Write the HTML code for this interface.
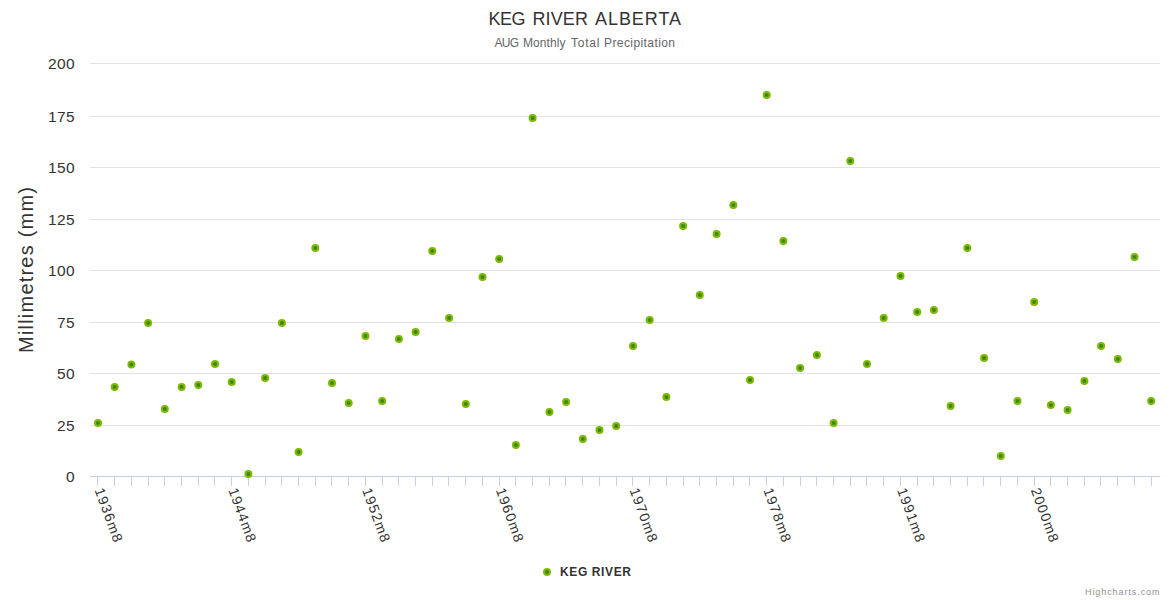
<!DOCTYPE html>
<html><head><meta charset="utf-8"><style>
html,body{margin:0;padding:0;background:#fff;width:1170px;height:600px;overflow:hidden}
svg{display:block}
text{font-family:"Liberation Sans",sans-serif}
</style></head><body>
<svg width="1170" height="600" viewBox="0 0 1170 600">
<rect x="0" y="0" width="1170" height="600" fill="#ffffff"/>

<text x="488.50" y="24.5" font-size="18" font-weight="normal" fill="#333333" textLength="37.00">KEG</text>
<text x="532.50" y="24.5" font-size="18" font-weight="normal" fill="#333333" textLength="55.50">RIVER</text>
<text x="595.00" y="24.5" font-size="18" font-weight="normal" fill="#333333" textLength="86.00">ALBERTA</text>
<text x="494.50" y="46.7" font-size="12" font-weight="normal" fill="#666666" textLength="24.50">AUG</text>
<text x="523.00" y="46.7" font-size="12" font-weight="normal" fill="#666666" textLength="42.50">Monthly</text>
<text x="571.00" y="46.7" font-size="12" font-weight="normal" fill="#666666" textLength="28.50">Total</text>
<text x="604.00" y="46.7" font-size="12" font-weight="normal" fill="#666666" textLength="71.00">Precipitation</text>
<rect x="90" y="63" width="1070" height="1" fill="#e3e3e3"/>
<rect x="90" y="116" width="1070" height="1" fill="#e3e3e3"/>
<rect x="90" y="167" width="1070" height="1" fill="#e3e3e3"/>
<rect x="90" y="219" width="1070" height="1" fill="#e3e3e3"/>
<rect x="90" y="270" width="1070" height="1" fill="#e3e3e3"/>
<rect x="90" y="322" width="1070" height="1" fill="#e3e3e3"/>
<rect x="90" y="373" width="1070" height="1" fill="#e3e3e3"/>
<rect x="90" y="425" width="1070" height="1" fill="#e3e3e3"/>
<rect x="90" y="476" width="1070" height="1" fill="#c4d0e6"/>
<rect x="97" y="477" width="1" height="9" fill="#c4d0e6"/>
<rect x="114" y="477" width="1" height="9" fill="#c4d0e6"/>
<rect x="131" y="477" width="1" height="9" fill="#c4d0e6"/>
<rect x="148" y="477" width="1" height="9" fill="#c4d0e6"/>
<rect x="164" y="477" width="1" height="9" fill="#c4d0e6"/>
<rect x="181" y="477" width="1" height="9" fill="#c4d0e6"/>
<rect x="198" y="477" width="1" height="9" fill="#c4d0e6"/>
<rect x="214" y="477" width="1" height="9" fill="#c4d0e6"/>
<rect x="231" y="477" width="1" height="9" fill="#c4d0e6"/>
<rect x="248" y="477" width="1" height="9" fill="#c4d0e6"/>
<rect x="265" y="477" width="1" height="9" fill="#c4d0e6"/>
<rect x="281" y="477" width="1" height="9" fill="#c4d0e6"/>
<rect x="298" y="477" width="1" height="9" fill="#c4d0e6"/>
<rect x="315" y="477" width="1" height="9" fill="#c4d0e6"/>
<rect x="331" y="477" width="1" height="9" fill="#c4d0e6"/>
<rect x="348" y="477" width="1" height="9" fill="#c4d0e6"/>
<rect x="365" y="477" width="1" height="9" fill="#c4d0e6"/>
<rect x="382" y="477" width="1" height="9" fill="#c4d0e6"/>
<rect x="398" y="477" width="1" height="9" fill="#c4d0e6"/>
<rect x="415" y="477" width="1" height="9" fill="#c4d0e6"/>
<rect x="432" y="477" width="1" height="9" fill="#c4d0e6"/>
<rect x="448" y="477" width="1" height="9" fill="#c4d0e6"/>
<rect x="465" y="477" width="1" height="9" fill="#c4d0e6"/>
<rect x="482" y="477" width="1" height="9" fill="#c4d0e6"/>
<rect x="499" y="477" width="1" height="9" fill="#c4d0e6"/>
<rect x="515" y="477" width="1" height="9" fill="#c4d0e6"/>
<rect x="532" y="477" width="1" height="9" fill="#c4d0e6"/>
<rect x="549" y="477" width="1" height="9" fill="#c4d0e6"/>
<rect x="565" y="477" width="1" height="9" fill="#c4d0e6"/>
<rect x="582" y="477" width="1" height="9" fill="#c4d0e6"/>
<rect x="599" y="477" width="1" height="9" fill="#c4d0e6"/>
<rect x="616" y="477" width="1" height="9" fill="#c4d0e6"/>
<rect x="632" y="477" width="1" height="9" fill="#c4d0e6"/>
<rect x="649" y="477" width="1" height="9" fill="#c4d0e6"/>
<rect x="666" y="477" width="1" height="9" fill="#c4d0e6"/>
<rect x="683" y="477" width="1" height="9" fill="#c4d0e6"/>
<rect x="699" y="477" width="1" height="9" fill="#c4d0e6"/>
<rect x="716" y="477" width="1" height="9" fill="#c4d0e6"/>
<rect x="733" y="477" width="1" height="9" fill="#c4d0e6"/>
<rect x="749" y="477" width="1" height="9" fill="#c4d0e6"/>
<rect x="766" y="477" width="1" height="9" fill="#c4d0e6"/>
<rect x="783" y="477" width="1" height="9" fill="#c4d0e6"/>
<rect x="800" y="477" width="1" height="9" fill="#c4d0e6"/>
<rect x="816" y="477" width="1" height="9" fill="#c4d0e6"/>
<rect x="833" y="477" width="1" height="9" fill="#c4d0e6"/>
<rect x="850" y="477" width="1" height="9" fill="#c4d0e6"/>
<rect x="866" y="477" width="1" height="9" fill="#c4d0e6"/>
<rect x="883" y="477" width="1" height="9" fill="#c4d0e6"/>
<rect x="900" y="477" width="1" height="9" fill="#c4d0e6"/>
<rect x="917" y="477" width="1" height="9" fill="#c4d0e6"/>
<rect x="933" y="477" width="1" height="9" fill="#c4d0e6"/>
<rect x="950" y="477" width="1" height="9" fill="#c4d0e6"/>
<rect x="967" y="477" width="1" height="9" fill="#c4d0e6"/>
<rect x="983" y="477" width="1" height="9" fill="#c4d0e6"/>
<rect x="1000" y="477" width="1" height="9" fill="#c4d0e6"/>
<rect x="1017" y="477" width="1" height="9" fill="#c4d0e6"/>
<rect x="1034" y="477" width="1" height="9" fill="#c4d0e6"/>
<rect x="1050" y="477" width="1" height="9" fill="#c4d0e6"/>
<rect x="1067" y="477" width="1" height="9" fill="#c4d0e6"/>
<rect x="1084" y="477" width="1" height="9" fill="#c4d0e6"/>
<rect x="1100" y="477" width="1" height="9" fill="#c4d0e6"/>
<rect x="1117" y="477" width="1" height="9" fill="#c4d0e6"/>
<rect x="1134" y="477" width="1" height="9" fill="#c4d0e6"/>
<rect x="1151" y="477" width="1" height="9" fill="#c4d0e6"/>
<text x="74.5" y="69.1" text-anchor="end" font-size="15.5" fill="#333333" textLength="26.5">200</text>
<text x="74.5" y="122.1" text-anchor="end" font-size="15.5" fill="#333333" textLength="26.5">175</text>
<text x="74.5" y="173.1" text-anchor="end" font-size="15.5" fill="#333333" textLength="26.5">150</text>
<text x="74.5" y="225.1" text-anchor="end" font-size="15.5" fill="#333333" textLength="26.5">125</text>
<text x="74.5" y="276.1" text-anchor="end" font-size="15.5" fill="#333333" textLength="26.5">100</text>
<text x="74.5" y="328.1" text-anchor="end" font-size="15.5" fill="#333333" textLength="17.5">75</text>
<text x="74.5" y="379.1" text-anchor="end" font-size="15.5" fill="#333333" textLength="17.5">50</text>
<text x="74.5" y="431.1" text-anchor="end" font-size="15.5" fill="#333333" textLength="17.5">25</text>
<text x="74.5" y="482.1" text-anchor="end" font-size="15.5" fill="#333333" textLength="9">0</text>
<text transform="translate(33,270) rotate(-90)" text-anchor="middle" font-size="20" fill="#333333" textLength="166">Millimetres (mm)</text>
<text transform="translate(94.5,490) rotate(70)" font-size="14" fill="#333333" textLength="56.5">1936m8</text>
<text transform="translate(228.2,490) rotate(70)" font-size="14" fill="#333333" textLength="56.5">1944m8</text>
<text transform="translate(362.0,490) rotate(70)" font-size="14" fill="#333333" textLength="56.5">1952m8</text>
<text transform="translate(495.7,490) rotate(70)" font-size="14" fill="#333333" textLength="56.5">1960m8</text>
<text transform="translate(629.5,490) rotate(70)" font-size="14" fill="#333333" textLength="56.5">1970m8</text>
<text transform="translate(763.2,490) rotate(70)" font-size="14" fill="#333333" textLength="56.5">1978m8</text>
<text transform="translate(897.0,490) rotate(70)" font-size="14" fill="#333333" textLength="56.5">1991m8</text>
<text transform="translate(1030.7,490) rotate(70)" font-size="14" fill="#333333" textLength="56.5">2000m8</text>
<circle cx="98.0" cy="423" r="4" fill="#7fb800"/><circle cx="98.0" cy="423" r="2" fill="#3a8a00"/>
<circle cx="114.7" cy="387" r="4" fill="#7fb800"/><circle cx="114.7" cy="387" r="2" fill="#3a8a00"/>
<circle cx="131.4" cy="364.5" r="4" fill="#7fb800"/><circle cx="131.4" cy="364.5" r="2" fill="#3a8a00"/>
<circle cx="148.1" cy="323" r="4" fill="#7fb800"/><circle cx="148.1" cy="323" r="2" fill="#3a8a00"/>
<circle cx="164.8" cy="409" r="4" fill="#7fb800"/><circle cx="164.8" cy="409" r="2" fill="#3a8a00"/>
<circle cx="181.6" cy="387" r="4" fill="#7fb800"/><circle cx="181.6" cy="387" r="2" fill="#3a8a00"/>
<circle cx="198.3" cy="385" r="4" fill="#7fb800"/><circle cx="198.3" cy="385" r="2" fill="#3a8a00"/>
<circle cx="215.0" cy="364" r="4" fill="#7fb800"/><circle cx="215.0" cy="364" r="2" fill="#3a8a00"/>
<circle cx="231.7" cy="382" r="4" fill="#7fb800"/><circle cx="231.7" cy="382" r="2" fill="#3a8a00"/>
<circle cx="248.4" cy="474" r="4" fill="#7fb800"/><circle cx="248.4" cy="474" r="2" fill="#3a8a00"/>
<circle cx="265.1" cy="378" r="4" fill="#7fb800"/><circle cx="265.1" cy="378" r="2" fill="#3a8a00"/>
<circle cx="281.9" cy="323" r="4" fill="#7fb800"/><circle cx="281.9" cy="323" r="2" fill="#3a8a00"/>
<circle cx="298.6" cy="452" r="4" fill="#7fb800"/><circle cx="298.6" cy="452" r="2" fill="#3a8a00"/>
<circle cx="315.3" cy="248" r="4" fill="#7fb800"/><circle cx="315.3" cy="248" r="2" fill="#3a8a00"/>
<circle cx="332.0" cy="383" r="4" fill="#7fb800"/><circle cx="332.0" cy="383" r="2" fill="#3a8a00"/>
<circle cx="348.7" cy="403" r="4" fill="#7fb800"/><circle cx="348.7" cy="403" r="2" fill="#3a8a00"/>
<circle cx="365.5" cy="336" r="4" fill="#7fb800"/><circle cx="365.5" cy="336" r="2" fill="#3a8a00"/>
<circle cx="382.2" cy="401" r="4" fill="#7fb800"/><circle cx="382.2" cy="401" r="2" fill="#3a8a00"/>
<circle cx="398.9" cy="339" r="4" fill="#7fb800"/><circle cx="398.9" cy="339" r="2" fill="#3a8a00"/>
<circle cx="415.6" cy="332" r="4" fill="#7fb800"/><circle cx="415.6" cy="332" r="2" fill="#3a8a00"/>
<circle cx="432.3" cy="251" r="4" fill="#7fb800"/><circle cx="432.3" cy="251" r="2" fill="#3a8a00"/>
<circle cx="449.1" cy="318" r="4" fill="#7fb800"/><circle cx="449.1" cy="318" r="2" fill="#3a8a00"/>
<circle cx="465.8" cy="404" r="4" fill="#7fb800"/><circle cx="465.8" cy="404" r="2" fill="#3a8a00"/>
<circle cx="482.5" cy="277" r="4" fill="#7fb800"/><circle cx="482.5" cy="277" r="2" fill="#3a8a00"/>
<circle cx="499.2" cy="259" r="4" fill="#7fb800"/><circle cx="499.2" cy="259" r="2" fill="#3a8a00"/>
<circle cx="515.9" cy="445" r="4" fill="#7fb800"/><circle cx="515.9" cy="445" r="2" fill="#3a8a00"/>
<circle cx="532.6" cy="118" r="4" fill="#7fb800"/><circle cx="532.6" cy="118" r="2" fill="#3a8a00"/>
<circle cx="549.4" cy="412" r="4" fill="#7fb800"/><circle cx="549.4" cy="412" r="2" fill="#3a8a00"/>
<circle cx="566.1" cy="402" r="4" fill="#7fb800"/><circle cx="566.1" cy="402" r="2" fill="#3a8a00"/>
<circle cx="582.8" cy="439" r="4" fill="#7fb800"/><circle cx="582.8" cy="439" r="2" fill="#3a8a00"/>
<circle cx="599.5" cy="430" r="4" fill="#7fb800"/><circle cx="599.5" cy="430" r="2" fill="#3a8a00"/>
<circle cx="616.2" cy="426" r="4" fill="#7fb800"/><circle cx="616.2" cy="426" r="2" fill="#3a8a00"/>
<circle cx="633.0" cy="346" r="4" fill="#7fb800"/><circle cx="633.0" cy="346" r="2" fill="#3a8a00"/>
<circle cx="649.7" cy="320" r="4" fill="#7fb800"/><circle cx="649.7" cy="320" r="2" fill="#3a8a00"/>
<circle cx="666.4" cy="397" r="4" fill="#7fb800"/><circle cx="666.4" cy="397" r="2" fill="#3a8a00"/>
<circle cx="683.1" cy="226" r="4" fill="#7fb800"/><circle cx="683.1" cy="226" r="2" fill="#3a8a00"/>
<circle cx="699.8" cy="295" r="4" fill="#7fb800"/><circle cx="699.8" cy="295" r="2" fill="#3a8a00"/>
<circle cx="716.6" cy="234" r="4" fill="#7fb800"/><circle cx="716.6" cy="234" r="2" fill="#3a8a00"/>
<circle cx="733.3" cy="205" r="4" fill="#7fb800"/><circle cx="733.3" cy="205" r="2" fill="#3a8a00"/>
<circle cx="750.0" cy="380" r="4" fill="#7fb800"/><circle cx="750.0" cy="380" r="2" fill="#3a8a00"/>
<circle cx="766.7" cy="95" r="4" fill="#7fb800"/><circle cx="766.7" cy="95" r="2" fill="#3a8a00"/>
<circle cx="783.4" cy="241" r="4" fill="#7fb800"/><circle cx="783.4" cy="241" r="2" fill="#3a8a00"/>
<circle cx="800.1" cy="368" r="4" fill="#7fb800"/><circle cx="800.1" cy="368" r="2" fill="#3a8a00"/>
<circle cx="816.9" cy="355" r="4" fill="#7fb800"/><circle cx="816.9" cy="355" r="2" fill="#3a8a00"/>
<circle cx="833.6" cy="423" r="4" fill="#7fb800"/><circle cx="833.6" cy="423" r="2" fill="#3a8a00"/>
<circle cx="850.3" cy="161" r="4" fill="#7fb800"/><circle cx="850.3" cy="161" r="2" fill="#3a8a00"/>
<circle cx="867.0" cy="364" r="4" fill="#7fb800"/><circle cx="867.0" cy="364" r="2" fill="#3a8a00"/>
<circle cx="883.7" cy="318" r="4" fill="#7fb800"/><circle cx="883.7" cy="318" r="2" fill="#3a8a00"/>
<circle cx="900.5" cy="276" r="4" fill="#7fb800"/><circle cx="900.5" cy="276" r="2" fill="#3a8a00"/>
<circle cx="917.2" cy="312" r="4" fill="#7fb800"/><circle cx="917.2" cy="312" r="2" fill="#3a8a00"/>
<circle cx="933.9" cy="310" r="4" fill="#7fb800"/><circle cx="933.9" cy="310" r="2" fill="#3a8a00"/>
<circle cx="950.6" cy="406" r="4" fill="#7fb800"/><circle cx="950.6" cy="406" r="2" fill="#3a8a00"/>
<circle cx="967.3" cy="248" r="4" fill="#7fb800"/><circle cx="967.3" cy="248" r="2" fill="#3a8a00"/>
<circle cx="984.1" cy="358" r="4" fill="#7fb800"/><circle cx="984.1" cy="358" r="2" fill="#3a8a00"/>
<circle cx="1000.8" cy="456" r="4" fill="#7fb800"/><circle cx="1000.8" cy="456" r="2" fill="#3a8a00"/>
<circle cx="1017.5" cy="401" r="4" fill="#7fb800"/><circle cx="1017.5" cy="401" r="2" fill="#3a8a00"/>
<circle cx="1034.2" cy="302" r="4" fill="#7fb800"/><circle cx="1034.2" cy="302" r="2" fill="#3a8a00"/>
<circle cx="1050.9" cy="405" r="4" fill="#7fb800"/><circle cx="1050.9" cy="405" r="2" fill="#3a8a00"/>
<circle cx="1067.6" cy="410" r="4" fill="#7fb800"/><circle cx="1067.6" cy="410" r="2" fill="#3a8a00"/>
<circle cx="1084.4" cy="381" r="4" fill="#7fb800"/><circle cx="1084.4" cy="381" r="2" fill="#3a8a00"/>
<circle cx="1101.1" cy="346" r="4" fill="#7fb800"/><circle cx="1101.1" cy="346" r="2" fill="#3a8a00"/>
<circle cx="1117.8" cy="359" r="4" fill="#7fb800"/><circle cx="1117.8" cy="359" r="2" fill="#3a8a00"/>
<circle cx="1134.5" cy="257" r="4" fill="#7fb800"/><circle cx="1134.5" cy="257" r="2" fill="#3a8a00"/>
<circle cx="1151.2" cy="401" r="4" fill="#7fb800"/><circle cx="1151.2" cy="401" r="2" fill="#3a8a00"/>
<circle cx="547" cy="572" r="4" fill="#7fb800"/><circle cx="547" cy="572" r="2" fill="#3a8a00"/>
<text x="560.00" y="575.5" font-size="12" font-weight="bold" fill="#333333" textLength="71.00">KEG RIVER</text>
<text x="1085.00" y="594.7" font-size="9" font-weight="normal" fill="#909090" textLength="74.50">Highcharts.com</text>
</svg></body></html>
